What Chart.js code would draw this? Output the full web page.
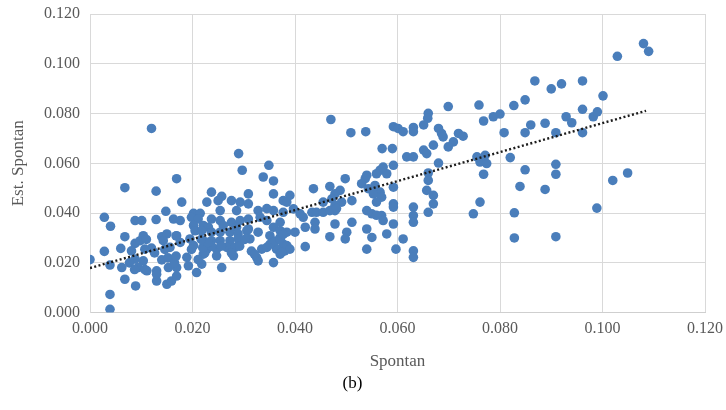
<!DOCTYPE html>
<html>
<head>
    <title>Spontan vs Est. Spontan</title>
    <script src="https://cdn.jsdelivr.net/npm/chart.js"></script>
    <style>
body {
    margin: 0;
    background: #ffffff;
}
    </style>
</head>
<body>
  <canvas id="myChart" width="726" height="410"></canvas>
    <script>
        const spontan = [
          0.0120, 0.0290, 0.0349, 0.0297, 0.0338, 0.0358, 0.0068, 0.0129, 0.0169, 0.0237,
          0.0257, 0.0309, 0.0358, 0.0179, 0.0228, 0.0250, 0.0276, 0.0293, 0.0309, 0.0377,
          0.0384, 0.0148, 0.0202, 0.0215, 0.0254, 0.0286, 0.0328, 0.0358, 0.0377, 0.0028,
          0.0088, 0.0101, 0.0129, 0.0163, 0.0176, 0.0198, 0.0211, 0.0237, 0.0254, 0.0276,
          0.0293, 0.0309, 0.0332, 0.0345, 0.0371, 0.0040, 0.0202, 0.0221, 0.0231, 0.0260,
          0.0286, 0.0309, 0.0358, 0.0371, 0.0068, 0.0104, 0.0140, 0.0150, 0.0169, 0.0205,
          0.0218, 0.0237, 0.0254, 0.0273, 0.0289, 0.0306, 0.0328, 0.0351, 0.0371, 0.0384,
          0.0088, 0.0098, 0.0120, 0.0143, 0.0176, 0.0195, 0.0221, 0.0237, 0.0254, 0.0273,
          0.0289, 0.0312, 0.0358, 0.0377, 0.0028, 0.0060, 0.0081, 0.0107, 0.0156, 0.0202,
          0.0228, 0.0247, 0.0267, 0.0283, 0.0335, 0.0345, 0.0364, 0.0380, 0.0000, 0.0039,
          0.0062, 0.0088, 0.0104, 0.0140, 0.0163, 0.0189, 0.0221, 0.0247, 0.0280, 0.0325,
          0.0358, 0.0371, 0.0094, 0.0111, 0.0130, 0.0153, 0.0169, 0.0192, 0.0208, 0.0218,
          0.0257, 0.0328, 0.0068, 0.0089, 0.0130, 0.0150, 0.0159, 0.0130, 0.0169, 0.0039,
          0.0039, 0.0110, 0.0168, 0.0077, 0.0087, 0.0107, 0.0152, 0.0165, 0.0168, 0.0211,
          0.0224, 0.0237, 0.0256, 0.0276, 0.0292, 0.0302, 0.0146, 0.0126, 0.0198, 0.0220,
          0.0230, 0.0217, 0.0315, 0.0321, 0.0351, 0.0361, 0.0371, 0.0377, 0.0592, 0.0680,
          0.0761, 0.0774, 0.0768, 0.0566, 0.0579, 0.0559, 0.0572, 0.0498, 0.0537, 0.0530,
          0.0543, 0.0556, 0.0566, 0.0553, 0.0569, 0.0559, 0.0592, 0.0592, 0.0592, 0.0468,
          0.0488, 0.0478, 0.0472, 0.0511, 0.0491, 0.0478, 0.0478, 0.0455, 0.0436, 0.0390,
          0.0660, 0.0660, 0.0657, 0.0670, 0.0670, 0.0660, 0.0631, 0.0631, 0.0631, 0.0761,
          0.0748, 0.0397, 0.0410, 0.0416, 0.0433, 0.0442, 0.0455, 0.0468, 0.0400, 0.0420,
          0.0439, 0.0439, 0.0478, 0.0511, 0.0501, 0.0498, 0.0540, 0.0550, 0.0569, 0.0572,
          0.0592, 0.0540, 0.0550, 0.0579, 0.0468, 0.0384, 0.0390, 0.0374, 0.0420, 0.0540,
          0.0597, 0.0611, 0.0631, 0.0631, 0.0540, 0.0345, 0.0481, 0.0559, 0.0470, 0.0509,
          0.0538, 0.0699, 0.0759, 0.0768, 0.0660, 0.0659, 0.0651, 0.0631, 0.0631, 0.0592,
          0.0601, 0.0611, 0.0680, 0.0686, 0.0689, 0.0719, 0.0728, 0.0709, 0.0699, 0.0670,
          0.0651, 0.0657, 0.0618, 0.0631, 0.0570, 0.0590, 0.0755, 0.0771, 0.1080, 0.1090,
          0.1029, 0.0868, 0.0900, 0.0920, 0.0961, 0.1001, 0.0827, 0.0849, 0.0961, 0.0787,
          0.0800, 0.0929, 0.0940, 0.0982, 0.0990, 0.0860, 0.0849, 0.0888, 0.0909, 0.0961,
          0.0808, 0.0820, 0.0909, 0.0849, 0.0909, 0.0839, 0.0888, 0.1020, 0.1049, 0.0828,
          0.0989, 0.0828, 0.0909
        ];
        const estSpontan = [
          0.0740, 0.0639, 0.0592, 0.0572, 0.0545, 0.0529, 0.0502, 0.0488, 0.0538, 0.0484,
          0.0467, 0.0477, 0.0477, 0.0444, 0.0444, 0.0450, 0.0450, 0.0444, 0.0437, 0.0450,
          0.0444, 0.0407, 0.0399, 0.0399, 0.0410, 0.0410, 0.0410, 0.0410, 0.0403, 0.0383,
          0.0370, 0.0370, 0.0374, 0.0376, 0.0370, 0.0383, 0.0376, 0.0376, 0.0370, 0.0363,
          0.0370, 0.0376, 0.0383, 0.0370, 0.0363, 0.0347, 0.0350, 0.0350, 0.0343, 0.0350,
          0.0343, 0.0336, 0.0343, 0.0329, 0.0305, 0.0309, 0.0305, 0.0316, 0.0309, 0.0329,
          0.0329, 0.0323, 0.0323, 0.0323, 0.0316, 0.0329, 0.0323, 0.0309, 0.0302, 0.0323,
          0.0278, 0.0289, 0.0259, 0.0289, 0.0282, 0.0296, 0.0289, 0.0289, 0.0289, 0.0289,
          0.0296, 0.0296, 0.0282, 0.0275, 0.0246, 0.0258, 0.0248, 0.0255, 0.0262, 0.0269,
          0.0255, 0.0255, 0.0262, 0.0262, 0.0255, 0.0262, 0.0255, 0.0248, 0.0213, 0.0191,
          0.0181, 0.0215, 0.0208, 0.0212, 0.0215, 0.0222, 0.0235, 0.0228, 0.0228, 0.0222,
          0.0201, 0.0235, 0.0181, 0.0168, 0.0168, 0.0181, 0.0181, 0.0188, 0.0161, 0.0195,
          0.0181, 0.0208, 0.0134, 0.0107, 0.0127, 0.0114, 0.0127, 0.0154, 0.0147, 0.0073,
          0.0013, 0.0294, 0.0308, 0.0200, 0.0173, 0.0173, 0.0220, 0.0200, 0.0227, 0.0213,
          0.0240, 0.0267, 0.0267, 0.0240, 0.0267, 0.0294, 0.0254, 0.0240, 0.0254, 0.0261,
          0.0281, 0.0294, 0.0247, 0.0234, 0.0274, 0.0288, 0.0294, 0.0314, 0.0592, 0.0601,
          0.0605, 0.0599, 0.0556, 0.0572, 0.0558, 0.0558, 0.0585, 0.0538, 0.0538, 0.0518,
          0.0498, 0.0511, 0.0484, 0.0477, 0.0464, 0.0444, 0.0504, 0.0437, 0.0424, 0.0507,
          0.0491, 0.0477, 0.0457, 0.0450, 0.0444, 0.0430, 0.0410, 0.0444, 0.0498, 0.0471,
          0.0561, 0.0531, 0.0491, 0.0471, 0.0437, 0.0403, 0.0424, 0.0390, 0.0363, 0.0444,
          0.0397, 0.0417, 0.0397, 0.0383, 0.0403, 0.0403, 0.0403, 0.0410, 0.0323, 0.0343,
          0.0363, 0.0336, 0.0356, 0.0363, 0.0323, 0.0296, 0.0410, 0.0397, 0.0390, 0.0370,
          0.0356, 0.0336, 0.0302, 0.0316, 0.0305, 0.0269, 0.0255, 0.0242, 0.0265, 0.0255,
          0.0255, 0.0296, 0.0248, 0.0222, 0.0552, 0.0418, 0.0418, 0.0391, 0.0776, 0.0723,
          0.0727, 0.0828, 0.0834, 0.0770, 0.0801, 0.0781, 0.0754, 0.0744, 0.0727, 0.0747,
          0.0740, 0.0727, 0.0740, 0.0720, 0.0706, 0.0720, 0.0709, 0.0686, 0.0666, 0.0673,
          0.0653, 0.0639, 0.0626, 0.0626, 0.0659, 0.0659, 0.0626, 0.0632, 0.1081, 0.1050,
          0.1030, 0.0931, 0.0899, 0.0919, 0.0931, 0.0871, 0.0832, 0.0855, 0.0817, 0.0787,
          0.0798, 0.0787, 0.0763, 0.0787, 0.0807, 0.0754, 0.0723, 0.0761, 0.0723, 0.0723,
          0.0723, 0.0623, 0.0596, 0.0574, 0.0556, 0.0507, 0.0495, 0.0531, 0.0561, 0.0401,
          0.0420, 0.0300, 0.0305
        ];

        // Linear trendline end points
        const trendX = [0.0, 0.1085];
        const trendY = [0.0179, 0.0811];

        const axisTicks = [0, 0.02, 0.04, 0.06, 0.08, 0.10, 0.12];

        const points = spontan.map((x, i) => ({ x: x, y: estSpontan[i] }));
        const trend = trendX.map((x, i) => ({ x: x, y: trendY[i] }));

        const labelFont = { family: 'Liberation Serif', size: 16 };
        const grey = '#595959';

        const ctx = document.getElementById('myChart').getContext('2d');

        new Chart(ctx, {
          type: 'scatter',
          data: {
            datasets: [
              {
                label: 'Trend',
                type: 'line',
                data: trend,
                borderColor: '#1c1c1c',
                borderWidth: 2.4,
                borderDash: [2, 2.4],
                pointRadius: 0,
                fill: false,
                order: 0,
              },
              {
                label: 'Est. Spontan',
                data: points,
                backgroundColor: '#4a7ebb',
                borderColor: '#4a7ebb',
                borderWidth: 0,
                pointRadius: 4.8,
                order: 1,
              },
            ],
          },
          options: {
            responsive: false,
            animation: false,
            layout: { padding: { top: 14, right: 21, bottom: 0, left: 0 } },
            plugins: {
              legend: { display: false },
              tooltip: { enabled: false },
              title: {
                display: true,
                text: '(b)',
                position: 'bottom',
                color: '#000000',
                font: { family: 'Liberation Serif', size: 17, weight: 'normal' },
                padding: { top: 0, bottom: 16 },
              },
            },
            scales: {
              x: {
                type: 'linear',
                min: 0,
                max: 0.12,
                afterBuildTicks: (axis) => { axis.ticks = axisTicks.map(v => ({ value: v })); },
                afterFit: (axis) => {
                  axis.height = 61;
                  axis.paddingLeft = 0;
                  axis.paddingRight = 0;
                },
                ticks: {
                  autoSkip: false,
                  maxRotation: 0,
                  padding: 7,
                  color: grey,
                  font: labelFont,
                  callback: (v) => v.toFixed(3),
                },
                grid: { color: '#d9d9d9', lineWidth: 1, drawTicks: false },
                border: { color: '#cfcfcf' },
                title: {
                  display: true,
                  text: 'Spontan',
                  color: grey,
                  font: { family: 'Liberation Serif', size: 17 },
                  padding: { top: 0, bottom: 2 },
                },
              },
              y: {
                type: 'linear',
                min: 0,
                max: 0.12,
                afterBuildTicks: (axis) => { axis.ticks = axisTicks.map(v => ({ value: v })); },
                afterFit: (axis) => {
                  axis.width = 90;
                  axis.paddingTop = 0;
                  axis.paddingBottom = 0;
                },
                ticks: {
                  padding: 10,
                  color: grey,
                  font: labelFont,
                  callback: (v) => v.toFixed(3),
                },
                grid: { color: '#d9d9d9', lineWidth: 1, drawTicks: false },
                border: { color: '#d9d9d9' },
                title: {
                  display: true,
                  text: 'Est. Spontan',
                  color: grey,
                  font: { family: 'Liberation Serif', size: 17 },
                  padding: { top: 8, bottom: 0 },
                },
              },
            },
          },
        });
    </script>
</body>
</html>
